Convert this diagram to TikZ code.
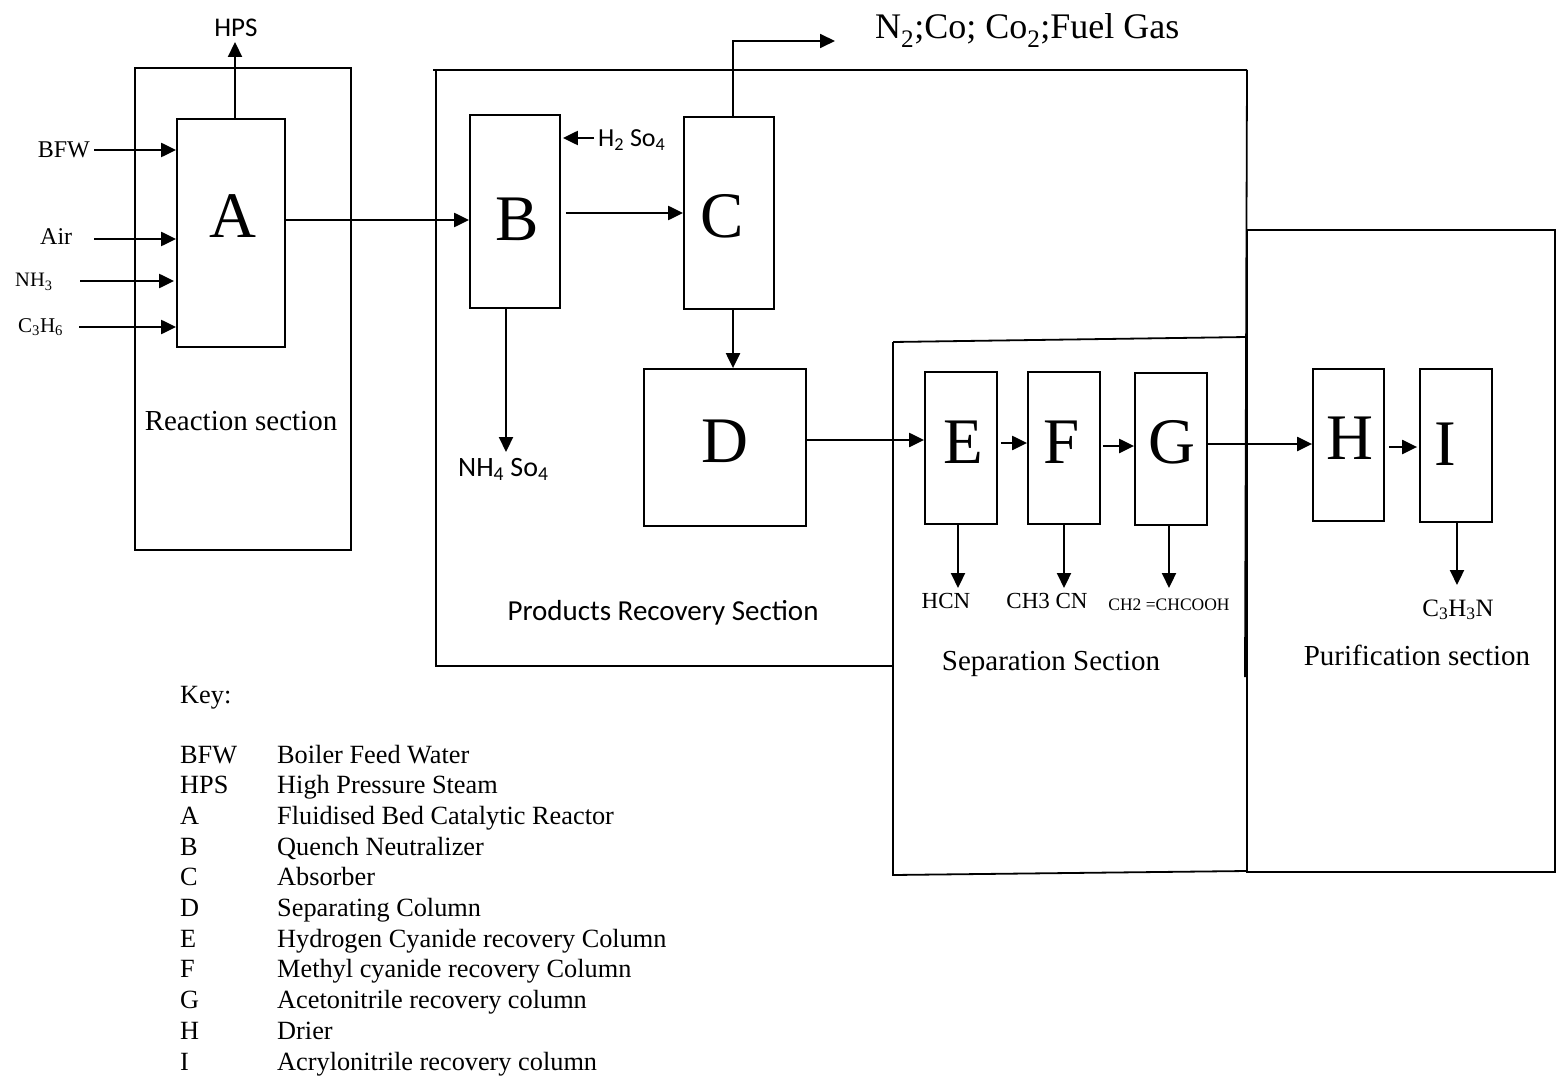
\documentclass[tikz,border=0pt]{standalone}
\usepackage{fontspec}
\setmainfont{Liberation Serif}
\newfontfamily\calib{Carlito}
\usetikzlibrary{arrows.meta}
\newcommand{\fsz}[1]{\fontsize{#1}{#1}\selectfont}
\begin{document}
\begin{tikzpicture}[x=1pt,y=-1pt,
  box/.style={draw, line width=1.8pt, inner sep=0pt},
  ln/.style={line width=1.8pt},
  arr/.style={line width=2.2pt, -{Triangle[length=15pt,width=14pt]}},
  big/.style={inner sep=0pt, font=\fsz{65}},
  lbl/.style={inner sep=0pt},
  keyt/.style={inner sep=0pt, anchor=base west, font=\fsz{26.3}}
]
\useasboundingbox (0,0) rectangle (1557,1091);

% section frames
\draw[ln] (135,68) rectangle (351,550);
\draw[ln] (433,70) -- (1247,70);
\draw[ln] (436,70) -- (436,666) -- (893,666);
\draw[ln] (1247,70) -- (1245,677);
\draw[ln] (893,342) -- (1247,337);
\draw[ln] (893,342) -- (893,875) -- (1247,871);
\draw[ln] (1247,230) -- (1555,230) -- (1555,872) -- (1247,872) -- cycle;

% unit boxes
\node[box, minimum width=108pt, minimum height=228pt] (A) at (231,233) {};
\node[box, minimum width=90pt, minimum height=193pt] (B) at (515,211.5) {};
\node[box, minimum width=90pt, minimum height=192pt] (C) at (729,213) {};
\node[box, minimum width=162pt, minimum height=157pt] (D) at (725,447.5) {};
\node[box, minimum width=72pt, minimum height=152pt] (E) at (961,448) {};
\node[box, minimum width=72pt, minimum height=152pt] (F) at (1064,448) {};
\node[box, minimum width=72pt, minimum height=152pt] (G) at (1171,449) {};
\node[box, minimum width=71pt, minimum height=152pt] (H) at (1348.5,445) {};
\node[box, minimum width=72pt, minimum height=153pt] (I) at (1456,445.5) {};

% letters
\node[big] (lA) at (233,216) {A};
\node[big] (lB) at (517,219) {B};
\node[big] (lC) at (722,216) {C};
\node[big] (lD) at (725,441) {D};
\node[big] (lE) at (963,442) {E};
\node[big] (lF) at (1062,442) {F};
\node[big] (lG) at (1172,442) {G};
\node[big] (lH) at (1350,438) {H};
\node[big] (lI) at (1445,444) {I};

% feeds into A
\coordinate (bfw) at (94,150);
\coordinate (air) at (94,239);
\coordinate (nh3) at (80,281);
\coordinate (c3h6) at (79,327);
\draw[arr] (bfw) -- (A.west |- bfw);
\draw[arr] (air) -- (A.west |- air);
\draw[arr] (nh3) -- ([xshift=-2pt]A.west |- nh3);
\draw[arr] (c3h6) -- (A.west |- c3h6);
\node[lbl, anchor=base east, font=\fsz{24}] (tbfw) at (90,158) {BFW};
\node[lbl, anchor=base west, font=\fsz{24}] (tair) at (40,245) {Air};
\node[lbl, anchor=base west, font=\fsz{20.5}] (tnh3) at (15,287) {NH\textsubscript{3}};
\node[lbl, anchor=base west, font=\fsz{21}] (tc3h6) at (18,332) {C\textsubscript{3}H\textsubscript{6}};

% HPS
\coordinate (hps) at (235,42);
\draw[arr] (A.north -| hps) -- (hps);
\node[lbl, anchor=base, font=\calib\fsz{27}] (thps) at (236,37) {HPS};

% A -> B
\coordinate (yAB) at (0,220);
\draw[arr] (A.east |- yAB) -- (B.west |- yAB);

% H2SO4 into B
\coordinate (h2so4) at (594,138);
\draw[arr] (h2so4) -- ([xshift=2pt]B.east |- h2so4);
\node[lbl, anchor=base west, font=\calib\fsz{26}] (th2so4) at (598,147) {H\textsubscript{2}\ So\textsubscript{4}};

% B -> C
\coordinate (yBC) at (0,213);
\draw[arr, shorten <=5pt] (B.east |- yBC) -- (C.west |- yBC);

% B -> NH4SO4
\coordinate (nh4) at (506,452);
\draw[arr] (B.south -| nh4) -- (nh4);
\node[lbl, anchor=base west, font=\calib\fsz{28}] (tnh4) at (458,476) {NH\textsubscript{4} So\textsubscript{4}};

% C -> off gas
\coordinate (cx) at (733,0);
\coordinate (fuel) at (835,41);
\draw[arr, line width=1.8pt] (C.north -| cx) |- (fuel);
\node[lbl, anchor=base west, font=\fsz{36}] (tfuel) at (875,39) {N\textsubscript{2};Co; Co\textsubscript{2};Fuel Gas};

% C -> D
\draw[arr] (C.south -| cx) -- (D.north -| cx);

% D -> E -> F -> G -> H -> I
\coordinate (yDE) at (0,440);
\coordinate (yEF) at (0,443);
\coordinate (yFG) at (0,446);
\coordinate (yGH) at (0,444);
\coordinate (yHI) at (0,447);
\draw[arr] (D.east |- yDE) -- (E.west |- yDE);
\draw[arr, shorten <=3pt] (E.east |- yEF) -- (F.west |- yEF);
\draw[arr, shorten <=2pt] (F.east |- yFG) -- (G.west |- yFG);
\draw[arr] (G.east |- yGH) -- (H.west |- yGH);
\draw[arr, shorten <=4pt] (H.east |- yHI) -- ([xshift=-2pt]I.west |- yHI);

% products out
\coordinate (hcn) at (958,588);
\coordinate (ch3cn) at (1064,588);
\coordinate (acr) at (1169,588);
\coordinate (prod) at (1457,585);
\draw[arr] (E.south -| hcn) -- (hcn);
\draw[arr] (F.south -| ch3cn) -- (ch3cn);
\draw[arr] (G.south -| acr) -- (acr);
\draw[arr] (I.south -| prod) -- (prod);
\node[lbl, anchor=base, font=\fsz{23}] (thcn) at (946,608) {HCN};
\node[lbl, anchor=base, font=\fsz{23}] (tch3cn) at (1047,608) {CH3 CN};
\node[lbl, anchor=base, font=\fsz{17.5}] (tacr) at (1169,610) {CH2 =CHCOOH};
\node[lbl, anchor=base, font=\fsz{25}] (tprod) at (1458,616) {C\textsubscript{3}H\textsubscript{3}N};

% section names
\node[lbl, anchor=base, font=\fsz{29}] (sec1) at (241,430) {Reaction section};
\node[lbl, anchor=base, font=\calib\fsz{29}] (sec2) at (663,620) {Products Recovery Section};
\node[lbl, anchor=base, font=\fsz{29}] (sec3) at (1051,670) {Separation Section};
\node[lbl, anchor=base, font=\fsz{29}] (sec4) at (1417,665) {Purification section};

% key
\node[keyt] (key) at (180,703) {Key:};
\foreach \ab/\txt [count=\k from 0] in {BFW/Boiler Feed Water, HPS/High Pressure Steam, A/Fluidised Bed Catalytic Reactor, B/Quench Neutralizer, C/Absorber, D/Separating Column, E/Hydrogen Cyanide recovery Column, F/Methyl cyanide recovery Column, G/Acetonitrile recovery column, H/Drier, I/Acrylonitrile recovery column}{
  \node[keyt] (ka\k) at (180,763+30.7*\k) {\ab};
  \node[keyt] (kt\k) at (277,763+30.7*\k) {\txt};
}
\end{tikzpicture}
\end{document}
